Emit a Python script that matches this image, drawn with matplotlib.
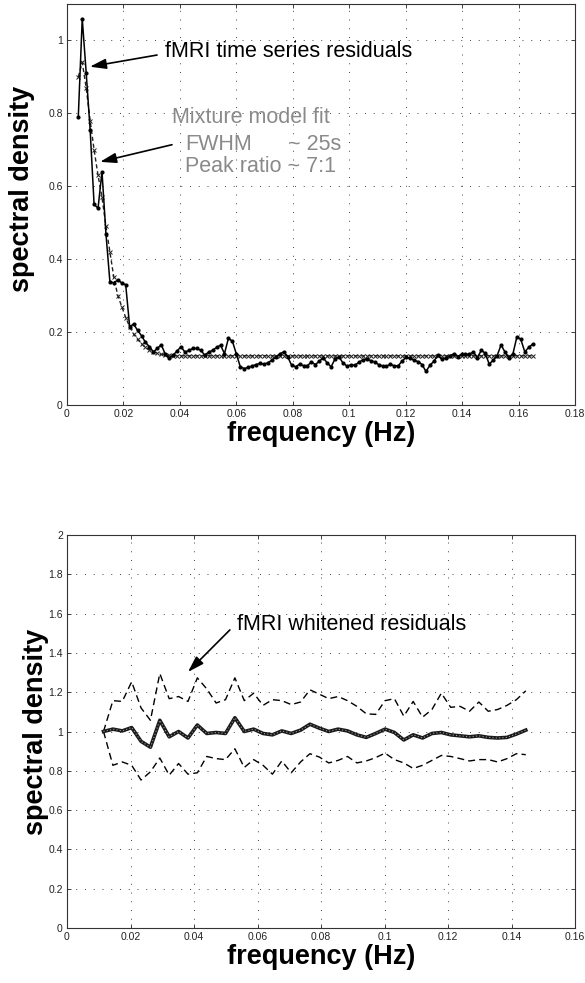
import numpy as np
import matplotlib
matplotlib.use('Agg')
import matplotlib.pyplot as plt
from matplotlib.ticker import FuncFormatter

plt.rcParams['font.family'] = ['Liberation Sans', 'DejaVu Sans']

# ---------------- data: top panel (raw residual spectrum + mixture-model fit)
top_freq = np.linspace(0.0040, 0.1650, 116)
top_raw = [
    0.790, 1.060, 0.911, 0.755, 0.550, 0.540, 0.640, 0.470, 0.338, 0.335,
    0.343, 0.335, 0.330, 0.215, 0.222, 0.205, 0.190, 0.172, 0.160, 0.146,
    0.155, 0.165, 0.140, 0.128, 0.137, 0.148, 0.160, 0.145, 0.150, 0.155,
    0.155, 0.150, 0.137, 0.145, 0.150, 0.158, 0.164, 0.141, 0.183, 0.175,
    0.140, 0.105, 0.100, 0.103, 0.107, 0.111, 0.114, 0.112, 0.116, 0.123,
    0.132, 0.140, 0.146, 0.132, 0.109, 0.105, 0.112, 0.108, 0.108, 0.118,
    0.111, 0.120, 0.130, 0.115, 0.105, 0.127, 0.132, 0.115, 0.107, 0.110,
    0.109, 0.117, 0.124, 0.126, 0.122, 0.118, 0.111, 0.107, 0.106, 0.112,
    0.107, 0.108, 0.121, 0.131, 0.128, 0.123, 0.119, 0.111, 0.092, 0.109,
    0.120, 0.137, 0.126, 0.128, 0.135, 0.140, 0.133, 0.139, 0.139, 0.140,
    0.145, 0.130, 0.150, 0.142, 0.112, 0.123, 0.135, 0.165, 0.145, 0.128,
    0.140, 0.187, 0.180, 0.146, 0.158, 0.167,
]
top_fit = [
    0.900, 0.940, 0.870, 0.780, 0.700, 0.630, 0.570, 0.490, 0.420, 0.350,
    0.300, 0.270, 0.240, 0.215, 0.195, 0.180, 0.168, 0.158, 0.151, 0.146,
    0.142, 0.139, 0.137, 0.136, 0.135,
    0.135, 0.135, 0.135, 0.135, 0.135, 0.135, 0.135, 0.135, 0.135, 0.135, 0.135, 0.135, 0.135,
    0.135, 0.135, 0.135, 0.135, 0.135, 0.135, 0.135, 0.135, 0.135, 0.135, 0.135, 0.135, 0.135,
    0.135, 0.135, 0.135, 0.135, 0.135, 0.135, 0.135, 0.135, 0.135, 0.135, 0.135, 0.135, 0.135,
    0.135, 0.135, 0.135, 0.135, 0.135, 0.135, 0.135, 0.135, 0.135, 0.135, 0.135, 0.135, 0.135,
    0.135, 0.135, 0.135, 0.135, 0.135, 0.135, 0.135, 0.135, 0.135, 0.135, 0.135, 0.135, 0.135,
    0.135, 0.135, 0.135, 0.135, 0.135, 0.135, 0.135, 0.135, 0.135, 0.135, 0.135, 0.135, 0.135,
    0.135, 0.135, 0.135, 0.135, 0.135, 0.135, 0.135, 0.135, 0.135, 0.135, 0.135, 0.135, 0.135,
]

# ---------------- data: bottom panel (whitened residuals, mean and bounds)
bot_freq = np.linspace(0.0115, 0.1445, 46)
bot_mean = [
    1.000, 1.012, 1.003, 1.020, 0.950, 0.920, 1.057, 0.973, 1.000, 0.967,
    1.033, 0.990, 0.995, 0.990, 1.070, 1.000, 1.012, 0.990, 0.983, 1.003,
    0.990, 1.007, 1.037, 1.017, 1.000, 1.012, 1.003, 0.983, 0.970, 0.990,
    1.012, 0.995, 0.957, 0.983, 0.967, 0.990, 0.995, 0.983, 0.978, 0.973,
    0.978, 0.970, 0.967, 0.970, 0.987, 1.007,
]
bot_upper = [
    1.000, 1.157, 1.153, 1.253, 1.120, 1.057, 1.295, 1.167, 1.178, 1.153,
    1.273, 1.217, 1.145, 1.162, 1.273, 1.157, 1.195, 1.133, 1.162, 1.157,
    1.137, 1.150, 1.212, 1.190, 1.167, 1.178, 1.157, 1.128, 1.090, 1.087,
    1.157, 1.167, 1.078, 1.153, 1.073, 1.112, 1.195, 1.123, 1.128, 1.103,
    1.150, 1.103, 1.112, 1.133, 1.162, 1.207,
]
bot_lower = [
    1.000, 0.828, 0.845, 0.828, 0.753, 0.795, 0.865, 0.778, 0.837, 0.783,
    0.790, 0.873, 0.862, 0.857, 0.912, 0.817, 0.857, 0.828, 0.783, 0.850,
    0.790, 0.845, 0.887, 0.870, 0.840, 0.853, 0.873, 0.840, 0.850, 0.867,
    0.890, 0.857, 0.840, 0.812, 0.828, 0.853, 0.878, 0.873, 0.862, 0.850,
    0.857, 0.857, 0.845, 0.862, 0.887, 0.882,
]

top_xticks = [0, 0.02, 0.04, 0.06, 0.08, 0.1, 0.12, 0.14, 0.16, 0.18]
top_yticks = [0, 0.2, 0.4, 0.6, 0.8, 1]
bot_xticks = [0, 0.02, 0.04, 0.06, 0.08, 0.1, 0.12, 0.14, 0.16]
bot_yticks = [0, 0.2, 0.4, 0.6, 0.8, 1, 1.2, 1.4, 1.6, 1.8, 2]

W, H = 585, 983
fig = plt.figure(figsize=(W / 100, H / 100), dpi=100)
ax1 = fig.add_axes([67 / W, 1 - 405 / H, 508 / W, 401 / H])
ax2 = fig.add_axes([67 / W, 1 - 928 / H, 508 / W, 393 / H])

fmt = FuncFormatter(lambda v, p: '%g' % round(v, 4))


def style(ax, xt, yt, xlim, ylim):
    ax.set_xlim(*xlim)
    ax.set_ylim(*ylim)
    ax.set_xticks(xt)
    ax.set_yticks(yt)
    ax.xaxis.set_major_formatter(fmt)
    ax.yaxis.set_major_formatter(fmt)
    ax.tick_params(direction='in', length=3, width=0.6, top=True, right=True,
                   labelsize=7.5, pad=3, colors='#222222')
    ax.grid(True, linestyle=(0, (1, 8)), color='#444444', lw=0.7)
    for s in ax.spines.values():
        s.set_linewidth(0.8)
        s.set_color('#333333')


style(ax1, top_xticks, top_yticks, (0, 0.18), (0, 1.1))
style(ax2, bot_xticks, bot_yticks, (0, 0.16), (0, 2))

# top panel lines
ax1.plot(top_freq, top_fit, linestyle=(0, (3, 2)), color='#222222', lw=1.0,
         marker='x', ms=2.8, mew=0.7)
ax1.plot(top_freq, top_raw, '-', color='black', lw=1.1, marker='o', ms=2.0)

# bottom panel lines
ax2.plot(bot_freq, bot_upper, linestyle=(0, (5, 3)), color='black', lw=1.0)
ax2.plot(bot_freq, bot_lower, linestyle=(0, (5, 3)), color='black', lw=1.0)
ax2.plot(bot_freq, bot_mean, '-', color='#1a1a1a', lw=2.6)
ax2.plot(bot_freq, bot_mean, linestyle=(0, (1, 2)), color='#9a9a9a', lw=0.8)

# labels
for ax in (ax1, ax2):
    ax.set_xlabel('frequency (Hz)', fontsize=19.5, fontweight='bold')
    ax.set_ylabel('spectral density', fontsize=19.5, fontweight='bold')
ax1.xaxis.set_label_coords(0.5, -0.040)
ax2.xaxis.set_label_coords(0.5, -0.041)
ax1.yaxis.set_label_coords(-0.063, 0.539)
ax2.yaxis.set_label_coords(-0.036, 0.5)

arrow = dict(arrowstyle='-|>,head_length=0.7,head_width=0.22', color='black',
             lw=1.2, mutation_scale=14, shrinkA=0, shrinkB=0)

# top annotations
ax1.text(0.0347, 0.969, 'fMRI time series residuals', fontsize=15.5,
         ha='left', va='center', color='black')
ax1.annotate('', xy=(0.0081, 0.928), xytext=(0.0319, 0.960), arrowprops=arrow)
gray = '#8a8a8a'
ax1.text(0.0372, 0.788, 'Mixture model fit', fontsize=15.5, ha='left',
         va='center', color=gray)
ax1.text(0.0418, 0.714, 'FWHM', fontsize=15.5, ha='left', va='center', color=gray)
ax1.text(0.0782, 0.714, '~ 25s', fontsize=15.5, ha='left', va='center', color=gray)
ax1.text(0.0418, 0.654, 'Peak ratio ~ 7:1', fontsize=15.5, ha='left',
         va='center', color=gray)
ax1.annotate('', xy=(0.0117, 0.667), xytext=(0.0372, 0.714), arrowprops=arrow)

# bottom annotation
ax2.text(0.0535, 1.542, 'fMRI whitened residuals', fontsize=15.5,
         ha='left', va='center', color='black')
ax2.annotate('', xy=(0.0381, 1.303), xytext=(0.0513, 1.517), arrowprops=arrow)

fig.savefig('out.png', dpi=100)
